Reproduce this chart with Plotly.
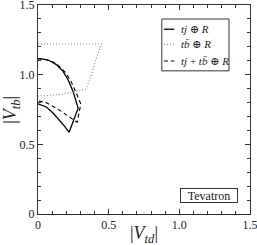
import plotly.graph_objects as go

# solid: tj (+) R  (outer arc, inner arc, joined at the tip)
tj_outer_x = [0.0, 0.04, 0.083, 0.13, 0.177, 0.213, 0.248, 0.284]
tj_outer_y = [1.115, 1.112, 1.10, 1.072, 1.024, 0.964, 0.880, 0.76]
tj_inner_x = [0.0, 0.059, 0.106, 0.154, 0.189, 0.22]
tj_inner_y = [0.79, 0.768, 0.725, 0.672, 0.629, 0.586]

# dashed: tj + tb (+) R
comb_outer_x = [0.0, 0.045, 0.09, 0.14, 0.19, 0.23, 0.27, 0.303]
comb_outer_y = [1.115, 1.112, 1.10, 1.07, 1.02, 0.96, 0.87, 0.79]
comb_inner_x = [0.0, 0.06, 0.11, 0.16, 0.2, 0.24, 0.277]
comb_inner_y = [0.813, 0.798, 0.77, 0.74, 0.712, 0.685, 0.658]

# dotted: tb (+) R
tb_x = [0.0, 0.45, 0.41, 0.37, 0.338, 0.25, 0.15, 0.06, 0.0]
tb_y = [1.22, 1.22, 1.11, 0.97, 0.897, 0.875, 0.857, 0.848, 0.847]

x_ticks = [0, 0.5, 1.0, 1.5]
x_labels = ["0", "0.5", "1.0", "1.5"]
y_ticks = [0, 0.5, 1.0, 1.5]
y_labels = ["0", "0.5", "1.0", "1.5"]

legend_labels = ["<i>tj</i> ⊕ <i>R</i>",
                 "<i>tb̄</i> ⊕ <i>R</i>",
                 "<i>tj</i> + <i>tb̄</i> ⊕ <i>R</i>"]

FONT = "Liberation Serif, Times New Roman, DejaVu Serif, serif"
INK = "#222222"

SOLID = dict(color="black", width=1.3)
DOTTED = dict(color="#888888", width=1.2, dash="1px,2px")
DASHED = dict(color="black", width=1.1, dash="4px,3px")

fig = go.Figure()
fig.add_trace(go.Scatter(
    x=tj_outer_x + [tj_inner_x[-1]],
    y=tj_outer_y + [tj_inner_y[-1]],
    mode="lines", line=SOLID, showlegend=False))
fig.add_trace(go.Scatter(
    x=tj_inner_x, y=tj_inner_y, mode="lines", line=SOLID, showlegend=False))
fig.add_trace(go.Scatter(
    x=tb_x, y=tb_y, mode="lines", line=DOTTED, showlegend=False))
fig.add_trace(go.Scatter(
    x=comb_outer_x + comb_inner_x[::-1],
    y=comb_outer_y + comb_inner_y[::-1],
    mode="lines", line=DASHED, showlegend=False))

axis_common = dict(
    showgrid=False, zeroline=False, showline=True, linecolor="#333",
    linewidth=1, mirror="allticks", ticks="inside", ticklen=5,
    tickcolor="#333", tickfont=dict(family=FONT, size=12, color=INK),
    minor=dict(ticks="inside", dtick=0.1, ticklen=3, tickcolor="#333"),
    automargin=False, ticklabeloverflow="allow",
)
fig.update_xaxes(range=[0, 1.5], tickvals=x_ticks, ticktext=x_labels,
                 **axis_common)
fig.update_yaxes(range=[0, 1.5], tickvals=y_ticks, ticktext=y_labels,
                 **axis_common)

# axis titles
fig.add_annotation(x=0.5, y=-0.1, xref="paper", yref="paper",
                   text="|<i>V<sub>td</sub></i>|", showarrow=False,
                   xanchor="center", yanchor="middle",
                   font=dict(family=FONT, size=18, color=INK))
fig.add_annotation(x=-0.126, y=0.5, xref="paper", yref="paper",
                   text="|<i>V<sub>tb</sub></i>|", showarrow=False,
                   textangle=-90, xanchor="center", yanchor="middle",
                   font=dict(family=FONT, size=18, color=INK))

# legend box (drawn manually to match compact look)
lx0, lx1, ly0, ly1 = 0.584, 0.901, 0.685, 0.933
fig.add_shape(type="rect", xref="paper", yref="paper",
              x0=lx0, x1=lx1, y0=ly0, y1=ly1,
              line=dict(color="#333", width=1), fillcolor="white")
rows_y = [0.884, 0.812, 0.732]
styles = [SOLID, DOTTED, DASHED]
for yy, st, lab in zip(rows_y, styles, legend_labels):
    fig.add_shape(type="line", xref="paper", yref="paper",
                  x0=0.594, x1=0.643, y0=yy, y1=yy, line=st)
    fig.add_annotation(x=0.665, y=yy, xref="paper", yref="paper",
                       text=lab, showarrow=False, xanchor="left",
                       yanchor="middle",
                       font=dict(family=FONT, size=11, color=INK))

fig.add_annotation(x=0.806, y=0.09, xref="paper", yref="paper",
                   text="Tevatron", showarrow=False,
                   xanchor="center", yanchor="middle",
                   width=54, height=11,
                   font=dict(family=FONT, size=12, color=INK),
                   bordercolor="#333", borderwidth=1, borderpad=1,
                   bgcolor="white")

fig.update_layout(
    width=257, height=245,
    margin=dict(l=38, r=7, t=5, b=31),
    plot_bgcolor="white", paper_bgcolor="white",
    showlegend=False,
)
fig.write_html("out.html",
               config={"displayModeBar": False},
               post_script="document.body.style.margin='0';"
                           "document.body.style.overflow='hidden';")
